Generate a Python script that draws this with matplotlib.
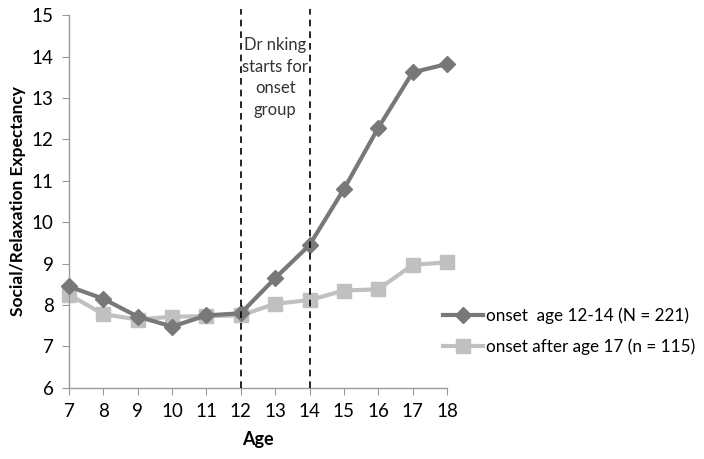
import matplotlib.pyplot as plt

ages = [7, 8, 9, 10, 11, 12, 13, 14, 15, 16, 17, 18]
early_onset = [8.45, 8.15, 7.72, 7.48, 7.75, 7.8, 8.65, 9.45, 10.8, 12.28, 13.62, 13.82]
late_onset = [8.25, 7.78, 7.65, 7.72, 7.73, 7.75, 8.03, 8.12, 8.35, 8.38, 8.97, 9.03]
onset_window = [12, 14]

plt.rcParams['font.family'] = ['Lato', 'DejaVu Sans']
plt.rcParams['font.size'] = 13

fig = plt.figure(figsize=(7.04, 4.59), dpi=100)
ax = fig.add_axes([0.098, 0.155, 0.537, 0.812])

ax.plot(ages, early_onset, color='#787878', lw=3, marker='D', ms=8,
        label='onset  age 12-14 (N = 221)', zorder=3, clip_on=False)
ax.plot(ages, late_onset, color='#c0c0c0', lw=3, marker='s', ms=10,
        label='onset after age 17 (n = 115)', zorder=2, clip_on=False)

for xv in onset_window:
    ax.plot([xv, xv], [6, 15.15], color='black', ls=(0, (4, 3)), lw=1.2,
            clip_on=False, zorder=4)

ax.text(13, 14.48, 'Dr nking\nstarts for\nonset\ngroup', ha='center', va='top',
        fontsize=12, color='#333333', linespacing=1.45)

ax.set_xlim(7, 18)
ax.set_ylim(6, 15)
ax.set_xticks(ages)
ax.set_yticks(range(6, 16))
ax.set_xlabel('Age', fontweight='bold', fontsize=13, labelpad=8)
ax.set_ylabel('Social/Relaxation Expectancy', fontweight='bold', fontsize=12.5)

for s in ['top', 'right']:
    ax.spines[s].set_visible(False)
for s in ['left', 'bottom']:
    ax.spines[s].set_color('#999999')
    ax.spines[s].set_linewidth(1)
ax.tick_params(direction='out', length=5, color='#999999', labelsize=13.5, pad=6)

ax.legend(loc='center left', bbox_to_anchor=(0.99, 0.152), frameon=False,
          fontsize=12.3, handlelength=2.3, labelspacing=0.8, handletextpad=0.2,
          borderaxespad=0, borderpad=0)

fig.savefig('out.png', dpi=100)
